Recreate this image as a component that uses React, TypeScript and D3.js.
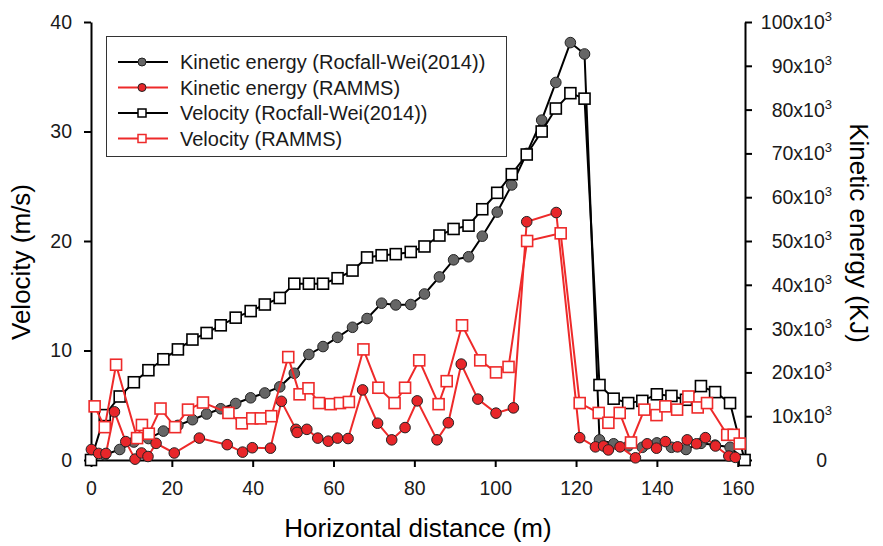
import React, { useEffect, useRef } from "react";
import * as d3 from "d3";

// Rocfall-Wei(2014): same stations for velocity and kinetic energy
const rocX = [
  0, 3.4, 7.1, 10.6, 14.2, 17.9, 21.5, 25.1, 28.6, 32.1, 35.8, 39.5, 43.0, 46.7,
  50.3, 53.9, 57.4, 61.0, 64.7, 68.3, 71.9, 75.4, 79.1, 82.5, 86.2, 89.7, 93.4,
  96.8, 100.5, 104.1, 107.8, 111.5, 115.0, 118.6, 122.1, 125.8, 129.3, 132.9,
  136.4, 140.0, 143.6, 147.2, 150.9, 154.4, 158.1, 161.7,
];
const rocVelocity = [
  0, 4.1, 5.8, 7.1, 8.2, 9.2, 10.1, 11.0, 11.6, 12.3, 13.0, 13.6, 14.2, 14.8,
  16.1, 16.1, 16.1, 16.6, 17.3, 18.5, 18.7, 18.8, 19.0, 19.5, 20.5, 21.1, 21.4,
  22.9, 24.4, 26.1, 27.9, 30.0, 32.1, 33.5, 33.0, 6.85, 5.6, 5.2, 5.4, 6.0,
  5.85, 5.5, 6.75, 6.2, 5.2, 0,
];
const rocEnergy = [
  0.3, 1.2, 2.4, 4.1, 4.9, 6.6, 7.9, 9.2, 10.5, 11.7, 12.9, 14.2, 15.3, 16.7,
  19.8, 24.1, 25.9, 28.0, 30.3, 32.3, 35.8, 35.4, 35.5, 37.9, 41.8, 45.7, 46.4,
  51.1, 56.6, 62.8, 70.0, 77.6, 86.2, 95.3, 92.7, 4.6, 3.7, 3.2, 2.9, 3.9, 2.9,
  2.4, 3.8, 3.4, 2.9, 0,
];

// RAMMS velocity
const rammsVelX = [
  0.9, 3.4, 6.2, 11.4, 12.6, 14.3, 17.2, 20.8, 24.0, 27.7, 34.0, 37.3, 39.9,
  42.0, 44.6, 48.8, 51.6, 53.8, 56.4, 59.3, 61.6, 63.8, 67.4, 71.1, 75.1, 77.7,
  81.2, 86.0, 88.0, 91.8, 96.3, 100.2, 103.3, 107.9, 116.2, 120.9, 125.6,
  128.0, 130.8, 133.6, 136.9, 139.9, 142.1, 145.0, 147.8, 150.1, 152.4, 157.4,
  159.0, 160.5,
];
const rammsVelocity = [
  4.9, 3.0, 8.7, 2.0, 3.2, 2.4, 4.7, 3.0, 4.6, 5.25, 4.3, 3.35, 3.8, 3.8, 4.0,
  9.4, 6.0, 6.55, 5.2, 5.1, 5.2, 5.3, 10.1, 6.6, 5.2, 6.6, 9.1, 5.1, 7.2, 12.3,
  9.1, 8.0, 8.5, 20.0, 20.7, 5.2, 4.3, 3.4, 4.3, 1.6, 4.6, 4.1, 4.9, 4.6, 5.8,
  4.8, 5.2, 2.3, 2.3, 1.5,
];

// RAMMS kinetic energy (x10^3 kJ)
const rammsKeX = [
  0.1, 1.9, 3.7, 5.8, 8.6, 10.9, 12.5, 14.1, 16.1, 20.6, 26.8, 33.7, 37.5, 39.9,
  44.4, 47.1, 50.7, 51.0, 53.4, 56.1, 58.7, 61.0, 63.6, 67.2, 70.9, 74.4, 77.7,
  80.7, 85.6, 88.4, 91.6, 95.7, 100.2, 104.5, 107.8, 115.1, 120.9, 124.8,
  126.8, 128.0, 130.9, 134.7, 137.6, 139.9, 142.1, 145.1, 147.5, 149.8, 152.0,
  154.5, 157.8, 159.4,
];
const rammsEnergy = [
  2.4, 1.5, 1.5, 11.0, 4.2, 0.2, 1.6, 0.8, 3.8, 1.6, 5.0, 3.5, 1.8, 2.8, 2.7,
  13.4, 7.0, 6.3, 7.0, 5.0, 4.3, 5.0, 4.9, 16.0, 8.4, 4.6, 7.4, 13.5, 4.6, 8.5,
  21.9, 13.9, 10.7, 11.9, 54.4, 56.5, 5.1, 3.0, 3.2, 2.3, 3.0, 0.5, 3.7, 2.7,
  4.2, 3.0, 4.6, 3.7, 5.1, 3.2, 0.9, 0.6,
];

const xTicks = [0, 20, 40, 60, 80, 100, 120, 140, 160];
const velocityTicks = [0, 10, 20, 30, 40];
const energyTicks = [0, 10, 20, 30, 40, 50, 60, 70, 80, 90, 100];

const legendLabels = [
  "Kinetic energy (Rocfall-Wei(2014))",
  "Kinetic energy (RAMMS)",
  "Velocity (Rocfall-Wei(2014))",
  "Velocity (RAMMS)",
];

const width = 883;
const height = 546;
const margin = { top: 22, right: 138, bottom: 86, left: 91 };
const font = "'Liberation Sans', Arial, sans-serif";
const red = "#ee2a2a";

function App() {
  const ref = useRef<SVGSVGElement>(null);

  useEffect(() => {
    const svg = d3.select(ref.current);
    svg.selectAll("*").remove();

    const x = d3
      .scaleLinear()
      .domain([0, 161.8])
      .range([margin.left, width - margin.right]);
    const yVel = d3
      .scaleLinear()
      .domain([0, 40])
      .range([height - margin.bottom, margin.top]);
    const yKe = d3
      .scaleLinear()
      .domain([0, 100])
      .range([height - margin.bottom, margin.top]);

    // axes
    const styleAxis = (g) => {
      g.selectAll("path, line").attr("stroke", "#000").attr("stroke-width", 2);
      g.selectAll("text")
        .attr("font-family", font)
        .attr("font-size", 19.5)
        .attr("fill", "#1a1a1a");
    };

    svg
      .append("g")
      .attr("transform", `translate(0,${height - margin.bottom})`)
      .call(
        d3.axisBottom(x).tickValues(xTicks).tickSize(7).tickSizeOuter(0).tickPadding(14)
      )
      .call(styleAxis);

    svg
      .append("g")
      .attr("transform", `translate(${margin.left},0)`)
      .call(
        d3.axisLeft(yVel).tickValues(velocityTicks).tickSize(7).tickSizeOuter(0).tickPadding(12)
      )
      .call(styleAxis);

    const right = svg
      .append("g")
      .attr("transform", `translate(${width - margin.right},0)`)
      .call(
        d3.axisRight(yKe).tickValues(energyTicks).tickSize(7).tickSizeOuter(0).tickFormat(() => "")
      )
      .call(styleAxis);

    // right tick labels with superscript
    energyTicks.forEach((t) => {
      const txt = right
        .append("text")
        .attr("x", 87)
        .attr("y", yKe(t) + 7)
        .attr("text-anchor", "end")
        .attr("font-family", font)
        .attr("font-size", 19.5)
        .attr("fill", "#1a1a1a");
      if (t === 0) {
        txt.attr("x", 82).text("0");
      } else {
        txt.append("tspan").text(`${t}x10`);
        txt.append("tspan").attr("dy", -8).attr("font-size", 13).text("3");
      }
    });

    // axis titles
    svg
      .append("text")
      .attr("x", (margin.left + width - margin.right) / 2)
      .attr("y", 537)
      .attr("text-anchor", "middle")
      .attr("font-family", font)
      .attr("font-size", 26)
      .text("Horizontal distance (m)");

    svg
      .append("text")
      .attr("transform", `translate(30,262) rotate(-90)`)
      .attr("text-anchor", "middle")
      .attr("font-family", font)
      .attr("font-size", 26)
      .text("Velocity (m/s)");

    svg
      .append("text")
      .attr("transform", `translate(850,${(margin.top + height - margin.bottom) / 2 - 8}) rotate(90)`)
      .attr("text-anchor", "middle")
      .attr("font-family", font)
      .attr("font-size", 26)
      .text("Kinetic energy (KJ)");

    // series
    const rocVelPts = rocX.map((d, i) => [x(d), yVel(rocVelocity[i])]);
    const rocKePts = rocX.map((d, i) => [x(d), yKe(rocEnergy[i])]);
    const rammsVelPts = rammsVelX.map((d, i) => [x(d), yVel(rammsVelocity[i])]);
    const rammsKePts = rammsKeX.map((d, i) => [x(d), yKe(rammsEnergy[i])]);

    const line = d3.line();

    const drawCircles = (pts, color, fill) => {
      svg.append("path").attr("d", line(pts)).attr("fill", "none").attr("stroke", color).attr("stroke-width", 2);
      svg
        .append("g")
        .selectAll("circle")
        .data(pts)
        .join("circle")
        .attr("cx", (d) => d[0])
        .attr("cy", (d) => d[1])
        .attr("r", 5.3)
        .attr("fill", fill)
        .attr("stroke", "#222")
        .attr("stroke-width", 1);
    };
    const drawSquares = (pts, color) => {
      svg.append("path").attr("d", line(pts)).attr("fill", "none").attr("stroke", color).attr("stroke-width", 2);
      svg
        .append("g")
        .selectAll("rect")
        .data(pts)
        .join("rect")
        .attr("x", (d) => d[0] - 5.5)
        .attr("y", (d) => d[1] - 5.5)
        .attr("width", 11)
        .attr("height", 11)
        .attr("fill", "#fff")
        .attr("stroke", color)
        .attr("stroke-width", 1.6);
    };

    drawCircles(rocKePts, "#000", "#666");
    drawSquares(rocVelPts, "#000");
    drawCircles(rammsKePts, red, "#e8262a");
    drawSquares(rammsVelPts, red);

    // legend
    const lg = svg.append("g");
    lg.append("rect")
      .attr("x", 106.5)
      .attr("y", 36.5)
      .attr("width", 400)
      .attr("height", 120)
      .attr("fill", "#fff")
      .attr("stroke", "#333")
      .attr("stroke-width", 1);
    legendLabels.forEach((label, i) => {
      const cy = 62 + i * 25.5;
      const color = i % 2 === 0 ? "#000" : red;
      lg.append("line")
        .attr("x1", 118)
        .attr("x2", 168)
        .attr("y1", cy)
        .attr("y2", cy)
        .attr("stroke", color)
        .attr("stroke-width", 2);
      if (i < 2) {
        lg.append("circle")
          .attr("cx", 142)
          .attr("cy", cy)
          .attr("r", 4)
          .attr("fill", i === 0 ? "#666" : "#e8262a")
          .attr("stroke", "#222")
          .attr("stroke-width", 1);
      } else {
        lg.append("rect")
          .attr("x", 138)
          .attr("y", cy - 4)
          .attr("width", 8)
          .attr("height", 8)
          .attr("fill", "#fff")
          .attr("stroke", color)
          .attr("stroke-width", 1.5);
      }
      lg.append("text")
        .attr("x", 180)
        .attr("y", cy + 7)
        .attr("font-family", font)
        .attr("font-size", 20)
        .attr("fill", "#1a1a1a")
        .text(label);
    });
  }, []);

  return (
    <svg
      ref={ref}
      width={width}
      height={height}
      style={{ position: "absolute", left: 0, top: 0, background: "#fff" }}
    />
  );
}

export default App;
